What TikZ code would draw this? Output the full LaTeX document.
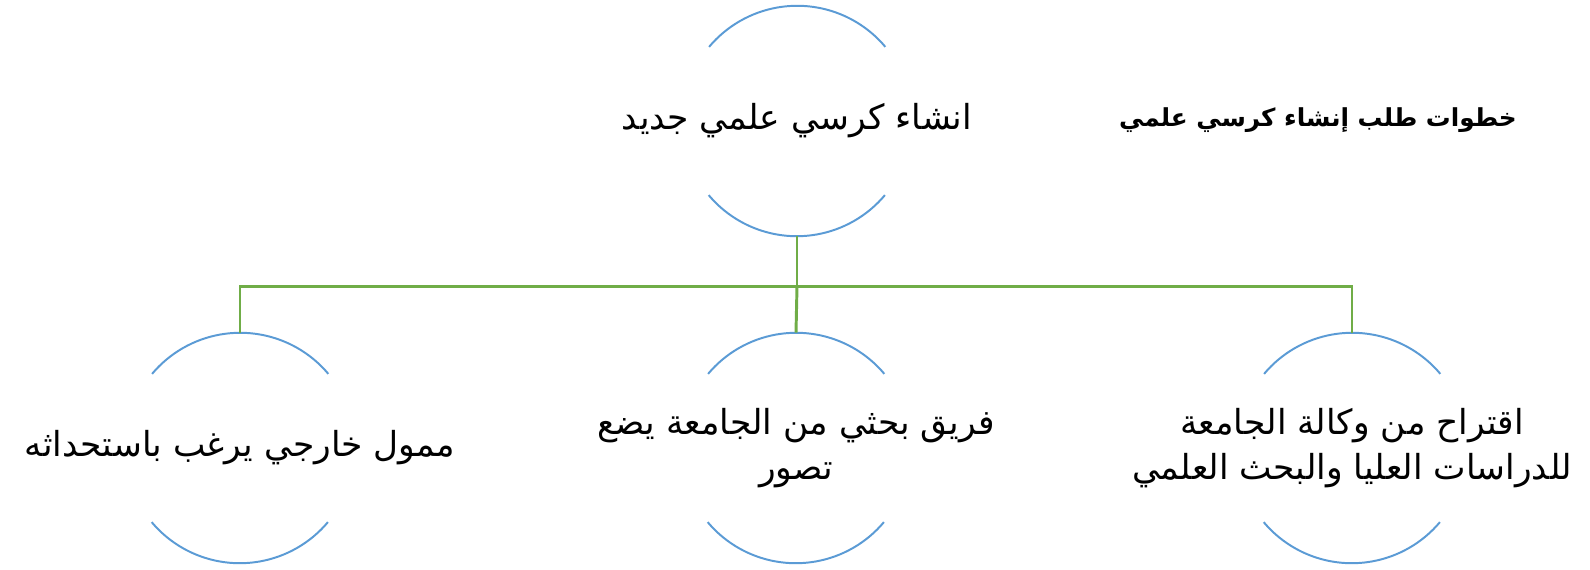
\documentclass[tikz,border=0pt]{standalone}
\usepackage{fontspec}
\usetikzlibrary{positioning}
\TeXXeTstate=1
\newfontfamily\arabicfont[Script=Arabic]{DejaVu Sans}
\definecolor{rimline}{HTML}{5B9BD5}
\definecolor{linkline}{HTML}{70AD47}
\definecolor{ink}{HTML}{000000}
\newcommand{\stepfont}{\arabicfont\fontsize{24.5}{32}\selectfont}
\newcommand{\headfont}{\arabicfont\bfseries\fontsize{17.6}{22}\selectfont}
\tikzset{
 every node/.append style={text=ink,align=center},
 chair/.style={circle,minimum size=5.75cm,inner sep=0pt},
 stepbox/.style={font=\stepfont,inner sep=1pt},
 heading/.style={font=\headfont,inner sep=1pt},
 rim/.style={draw=rimline,line width=1.4pt},
 link/.style={draw=linkline,line width=2.1pt},
}

\begin{document}
\begin{tikzpicture}[x=0.025cm,y=0.025cm]

\useasboundingbox (0,0) rectangle (1590,-570);
\node[chair] (new) at (797,-121) {};
\node[chair] (funder) at (240,-448) {};
\node[chair] (team) at (796,-448) {};
\node[chair] (dean) at (1352,-448) {};
\foreach \n in {new,funder,team,dean} {
 \draw[rim] (\n.40) arc[start angle=40,end angle=140,radius=2.875cm];
 \draw[rim] (\n.220) arc[start angle=220,end angle=320,radius=2.875cm];
}
\node[stepbox] (new-text) at (new) {\beginR انشاء كرسي علمي جديد\endR};
\node[heading] (title) at (1318,-120) {\beginR خطوات طلب إنشاء كرسي علمي\endR};
\node[stepbox] (funder-text) at (funder) {\beginR ممول خارجي يرغب باستحداثه\endR};
\node[stepbox] (team-text) at (team) {\beginR فريق بحثي من الجامعة يضع\endR\\\beginR تصور\endR};
\node[stepbox] (dean-text) at (dean) {\beginR اقتراح من وكالة الجامعة\endR\\\beginR للدراسات العليا والبحث العلمي\endR};
\draw[link] (new.south) -- ++(0,-50) coordinate (fork);
\draw[link] (fork) -| (funder.north); \draw[link] (fork) -- (team.north); \draw[link] (fork) -| (dean.north);

\end{tikzpicture}
\end{document}
